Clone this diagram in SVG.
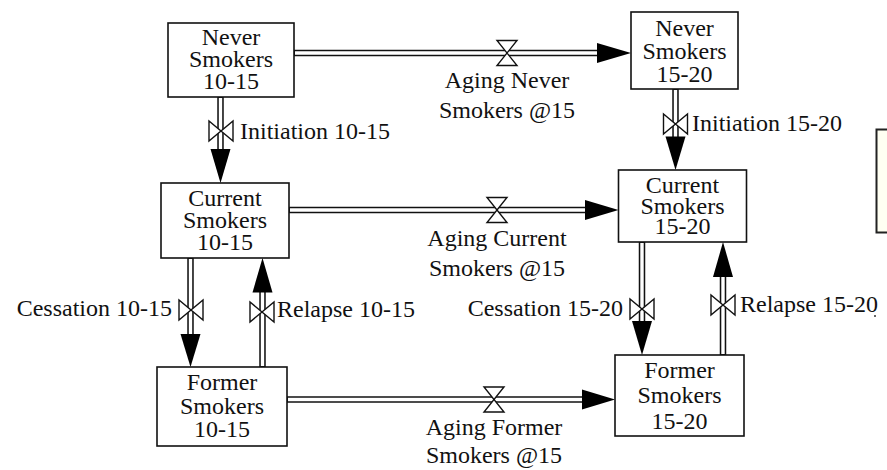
<svg xmlns="http://www.w3.org/2000/svg" xmlns:xlink="http://www.w3.org/1999/xlink" width="887" height="470" viewBox="0 0 887 470">
  <style>
    .stock { fill: #ffffff; stroke: #111111; stroke-width: 1.6; }
    .txt { font-family: "Liberation Serif", "Times New Roman", serif; font-size: 24px; fill: #111111; }
    .mid { text-anchor: middle; }
    .end { text-anchor: end; }
    .pipe-outer { fill: none; stroke: #111111; stroke-width: 6.5; }
    .pipe-inner { fill: none; stroke: #ffffff; stroke-width: 3.4; }
    .head { fill: #000000; stroke: none; }
    .valve { fill: #ffffff; stroke: #111111; stroke-width: 1.4; stroke-linejoin: miter; }
  </style>
  <defs>
    <!-- valve on a horizontal pipe (hourglass) -->
    <path id="valveH" class="valve" d="M-10,-12.5 H10 L-10,12.5 H10 Z"/>
    <!-- valve on a vertical pipe (bow tie) -->
    <path id="valveV" class="valve" d="M-12,-10 V10 L12,-10 V10 Z"/>
  </defs>

  <rect width="887" height="470" fill="#ffffff"/>

  <!-- flows: double-line pipes, arrowheads and valves -->
  <g id="flows">
    <!-- pipes -->
    <path class="pipe-outer" d="M294,53 H598 M220.5,97 V150 M675.5,89 V138 M289,210 H586 M190.5,258 V335 M262.5,367 V292 M287,399.5 H583 M642,242 V322 M723,355 V276"/>
    <path class="pipe-inner" d="M295,53 H598 M220.5,98 V150 M675.5,90 V138 M290,210 H586 M190.5,259 V335 M262.5,366 V292 M288,399.5 H583 M642,243 V322 M723,354 V276"/>

    <!-- arrowheads -->
    <polygon class="head" points="631,53 597,43 597,63"/>
    <polygon class="head" points="220.5,183 210.5,149 230.5,149"/>
    <polygon class="head" points="675.5,170 665.5,136.5 685.5,136.5"/>
    <polygon class="head" points="618.5,210 585,200 585,220"/>
    <polygon class="head" points="190.5,367 180.5,334 200.5,334"/>
    <polygon class="head" points="262.5,258 252.5,292.5 272.5,292.5"/>
    <polygon class="head" points="615,399.5 582,389.5 582,409.5"/>
    <polygon class="head" points="642,355 632,321 652,321"/>
    <polygon class="head" points="723,242 713,277 733,277"/>

    <!-- valves -->
    <use xlink:href="#valveH" x="507" y="53"/>
    <use xlink:href="#valveV" x="221" y="131"/>
    <use xlink:href="#valveV" x="675.5" y="124"/>
    <use xlink:href="#valveH" x="497" y="210"/>
    <use xlink:href="#valveV" x="191" y="310"/>
    <use xlink:href="#valveV" x="262" y="312"/>
    <use xlink:href="#valveH" x="494" y="399.5"/>
    <use xlink:href="#valveV" x="642" y="309"/>
    <use xlink:href="#valveV" x="723" y="305"/>

    <!-- flow labels -->
    <text class="txt mid" x="507" y="88">Aging Never<tspan x="507" dy="30">Smokers @15</tspan></text>
    <text class="txt" x="240" y="139">Initiation 10-15</text>
    <text class="txt" x="692" y="131">Initiation 15-20</text>
    <text class="txt mid" x="497" y="246">Aging Current<tspan x="497" dy="30">Smokers @15</tspan></text>
    <text class="txt end" x="172" y="316">Cessation 10-15</text>
    <text class="txt" x="277" y="317">Relapse 10-15</text>
    <text class="txt end" x="623" y="316">Cessation 15-20</text>
    <text class="txt" x="740" y="312">Relapse 15-20</text>
    <text class="txt mid" x="494" y="435">Aging Former<tspan x="494" dy="28">Smokers @15</tspan></text>
    <circle cx="875" cy="316" r="1" fill="#333333"/>
  </g>

  <!-- stocks -->
  <g id="never-10-15">
    <rect class="stock" x="168" y="23" width="126" height="74"/>
    <text class="txt mid" x="231" y="45">Never<tspan x="231" dy="22">Smokers</tspan><tspan x="231" dy="22">10-15</tspan></text>
  </g>
  <g id="never-15-20">
    <rect class="stock" x="631" y="12" width="107" height="77"/>
    <text class="txt mid" x="684.5" y="36">Never<tspan x="684.5" dy="23">Smokers</tspan><tspan x="684.5" dy="23">15-20</tspan></text>
  </g>
  <g id="current-10-15">
    <rect class="stock" x="161" y="183" width="128" height="75"/>
    <text class="txt mid" x="225" y="206">Current<tspan x="225" dy="22">Smokers</tspan><tspan x="225" dy="22">10-15</tspan></text>
  </g>
  <g id="current-15-20">
    <rect class="stock" x="618.5" y="170" width="128" height="72"/>
    <text class="txt mid" x="682.5" y="193">Current<tspan x="682.5" dy="21">Smokers</tspan><tspan x="682.5" dy="20">15-20</tspan></text>
  </g>
  <g id="former-10-15">
    <rect class="stock" x="157" y="367" width="130" height="79"/>
    <text class="txt mid" x="222" y="390">Former<tspan x="222" dy="24">Smokers</tspan><tspan x="222" dy="23">10-15</tspan></text>
  </g>
  <g id="former-15-20">
    <rect class="stock" x="615" y="355" width="129" height="81"/>
    <text class="txt mid" x="679.5" y="378">Former<tspan x="679.5" dy="25">Smokers</tspan><tspan x="679.5" dy="26">15-20</tspan></text>
  </g>

  <!-- panel running off the right edge -->
  <g id="side-panel">
    <rect x="876.5" y="129.5" width="30" height="103" fill="#fffff2" stroke="#222222" stroke-width="2"/>
  </g>
</svg>
